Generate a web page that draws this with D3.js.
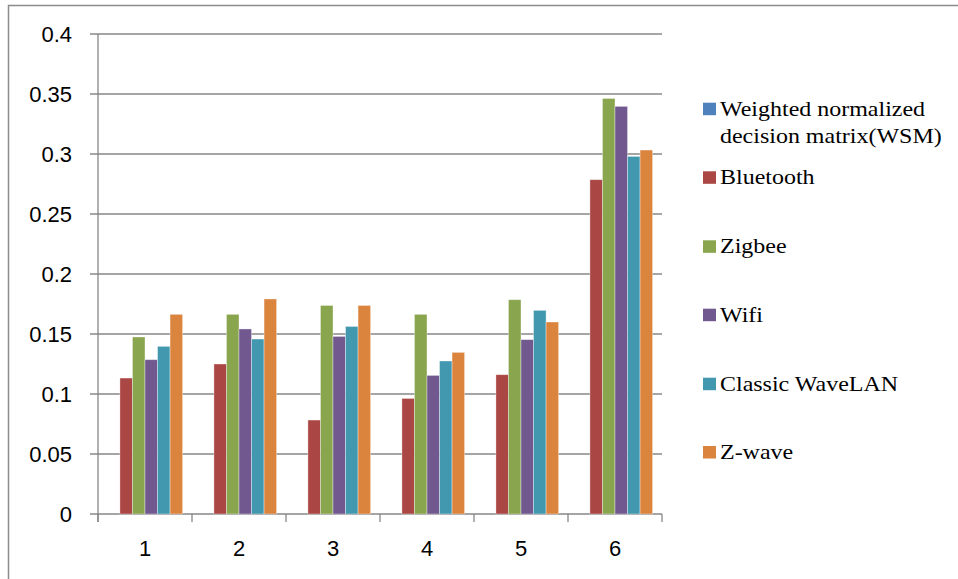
<!DOCTYPE html>
<html>
<head>
	<meta charset="utf-8">
	<title>WSM chart</title>
	<script type="text/javascript" src="https://cdnjs.cloudflare.com/ajax/libs/d3/7.8.5/d3.min.js"></script>
	<style>
		body { margin: 0; background: #fff; }
	</style>
</head>
<body>
	<svg id="chart" width="958" height="579"></svg>
	<script type="text/javascript">
		// data
		var categories = ["1", "2", "3", "4", "5", "6"];
		var seriesNames = ["Weighted normalized decision matrix(WSM)", "Bluetooth", "Zigbee", "Wifi", "Classic WaveLAN", "Z-wave"];
		var wsm       = [0, 0, 0, 0, 0, 0];
		var bluetooth = [0.1133, 0.125, 0.0783, 0.0963, 0.1161, 0.2786];
		var zigbee    = [0.1475, 0.1664, 0.1738, 0.1664, 0.1786, 0.3463];
		var wifi      = [0.1286, 0.1542, 0.148, 0.1155, 0.1453, 0.3397];
		var wavelan   = [0.1397, 0.1458, 0.1563, 0.1275, 0.1697, 0.298];
		var zwave     = [0.1664, 0.1792, 0.1738, 0.1347, 0.16, 0.3033];
		var yTicks = [0, 0.05, 0.1, 0.15, 0.2, 0.25, 0.3, 0.35, 0.4];
		var colors = ["#4F81BD", "#AA4643", "#89A54E", "#71588F", "#4198AF", "#DB843D"];

		var allSeries = [wsm, bluetooth, zigbee, wifi, wavelan, zwave];

		var svg = d3.select("#chart");
		var gridColor = "#878787";

		// plot box (note: "top" is taken by window.top)
		var plotLeft = 98, plotRight = 662, plotTop = 34, plotBottom = 514;

		var x0 = d3.scaleBand()
			.domain(categories)
			.range([plotLeft, plotRight])
			.paddingInner(0.2)
			.paddingOuter(0.1);

		var x1 = d3.scaleBand()
			.domain(d3.range(seriesNames.length))
			.range([0, x0.bandwidth()]);

		var y = d3.scaleLinear()
			.domain([0, 0.4])
			.range([plotBottom, plotTop]);

		//outer frame (only left and top edges show)
		svg.append("path")
			.attr("d", "M8.5,579V5.5H958")
			.attr("fill", "none")
			.attr("stroke", "#8c8c8c")
			.attr("stroke-width", 1.5);

		//gridlines
		svg.append("g")
			.selectAll("line")
			.data(yTicks)
			.enter().append("line")
			.attr("x1", plotLeft - 8)
			.attr("x2", plotRight)
			.attr("y1", function (d) { return y(d); })
			.attr("y2", function (d) { return y(d); })
			.attr("stroke", gridColor)
			.attr("stroke-width", 1.3);

		//y labels
		svg.append("g")
			.selectAll("text")
			.data(yTicks)
			.enter().append("text")
			.attr("x", 72)
			.attr("y", function (d) { return y(d); })
			.attr("dy", "0.36em")
			.attr("text-anchor", "end")
			.attr("font-family", "Liberation Sans, Arial, sans-serif")
			.attr("font-size", 22)
			.attr("fill", "#000")
			.text(function (d) { return d3.format("")(d); });

		//bars
		var groups = svg.append("g")
			.selectAll("g")
			.data(categories)
			.enter().append("g")
			.attr("transform", function (d) { return "translate(" + x0(d) + ",0)"; });

		groups.selectAll("rect")
			.data(function (d, i) {
				return allSeries.map(function (s, k) { return {k: k, v: s[i]}; });
			})
			.enter().append("rect")
			.attr("x", function (d) { return x1(d.k); })
			.attr("width", x1.bandwidth())
			.attr("y", function (d) { return y(d.v); })
			.attr("height", function (d) { return plotBottom - y(d.v); })
			.attr("fill", function (d) { return colors[d.k]; })
			.attr("stroke", function (d) { return d.v > 0 ? "#fff" : "none"; })
			.attr("stroke-opacity", 0.45)
			.attr("stroke-width", 0.8);

		//axes lines
		svg.append("line")
			.attr("x1", plotLeft).attr("x2", plotLeft)
			.attr("y1", plotTop).attr("y2", plotBottom + 8)
			.attr("stroke", gridColor).attr("stroke-width", 1.3);

		var xTickPos = categories.map(function (c) { return x0(c) - x0.step() * 0.1; });
		xTickPos.push(plotRight);
		svg.append("g")
			.selectAll("line")
			.data(xTickPos)
			.enter().append("line")
			.attr("x1", function (d) { return d; })
			.attr("x2", function (d) { return d; })
			.attr("y1", plotBottom)
			.attr("y2", plotBottom + 8)
			.attr("stroke", gridColor)
			.attr("stroke-width", 1.3);

		svg.append("g")
			.selectAll("text")
			.data(categories)
			.enter().append("text")
			.attr("x", function (d) { return x0(d) + x0.bandwidth() / 2; })
			.attr("y", 556)
			.attr("text-anchor", "middle")
			.attr("font-family", "Liberation Sans, Arial, sans-serif")
			.attr("font-size", 22)
			.attr("fill", "#000")
			.text(function (d) { return d; });

		//legend
		var legendLines = [["Weighted normalized", "decision matrix(WSM)"], ["Bluetooth"], ["Zigbee"], ["Wifi"], ["Classic WaveLAN"], ["Z-wave"]];
		var legendY = [115.7, 184.3, 253.3, 321.7, 390.7, 459];

		var legend = svg.append("g")
			.selectAll("g")
			.data(seriesNames)
			.enter().append("g")
			.attr("transform", function (d, i) { return "translate(703," + legendY[i] + ")"; });

		legend.append("rect")
			.attr("x", 0)
			.attr("y", -13)
			.attr("width", 13)
			.attr("height", 12.5)
			.attr("fill", function (d, i) { return colors[i]; });

		legend.append("text")
			.attr("transform", "translate(17,0) scale(1.1,1)")
			.attr("font-family", "Liberation Serif, Times New Roman, serif")
			.attr("font-size", 21.8)
			.attr("fill", "#000")
			.selectAll("tspan")
			.data(function (d, i) { return legendLines[i]; })
			.enter().append("tspan")
			.attr("x", 0)
			.attr("y", function (d, j) { return j * 27.6; })
			.text(function (d) { return d; });
	</script>
</body>
</html>
